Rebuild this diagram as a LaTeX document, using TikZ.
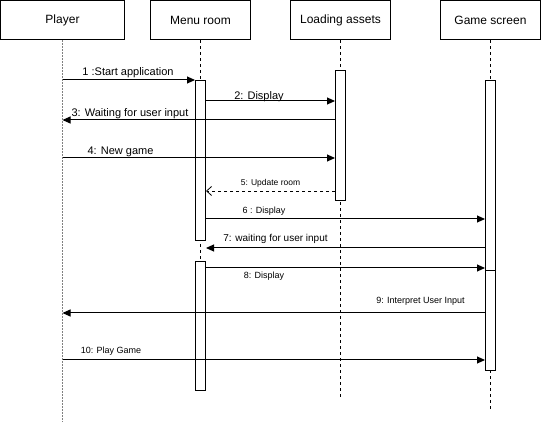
\documentclass[tikz,border=0pt]{standalone}
\usepackage{fontspec}
\setmainfont{Liberation Sans}
\usetikzlibrary{arrows.meta}
\begin{document}
\begin{tikzpicture}[x=1pt,y=-1pt,
 head/.style={draw, line width=1pt, minimum height=39.5pt, inner sep=0pt, font=\fontsize{12}{14}\selectfont},
 act/.style={draw, fill=white, line width=1pt, minimum width=10pt, inner sep=0pt, anchor=north},
 life/.style={line width=0.8pt, dash pattern=on 3pt off 3pt},
 plife/.style={line width=1.5pt, gray, dash pattern=on 2pt off 1pt},
 msg/.style={line width=1pt, -{Triangle[length=8pt,width=7pt]}},
 rmsg/.style={line width=0.8pt, dash pattern=on 3pt off 3pt, -{Straight Barb[length=5pt,width=9pt,line width=0.8pt]}},
 lbl/.style={font=\fontsize{11}{13}\selectfont, inner sep=0pt},
 slbl/.style={font=\fontsize{9}{11}\selectfont, inner sep=0pt}]
\useasboundingbox (0,0) rectangle (542,422);
% headers
\node[head, minimum width=124pt] (player) at (62.5,20.25) {Player};
\node[head, minimum width=100pt] (menu) at (200.5,20.25) {Menu room};
\node[head, minimum width=100pt] (load) at (340.5,20.25) {Loading assets};
\node[head, minimum width=100pt] (game) at (490.5,20.25) {Game screen};
% lifeline ends
\coordinate (pend) at (62.5,422);
\coordinate (mend) at (200.5,390);
\coordinate (lend) at (340.5,397);
\coordinate (gend) at (490.5,410);
\draw[plife] (player.south) -- (pend);
\draw[life] (menu.south) -- (mend);
\draw[life] (load.south) -- (lend);
\draw[life] (game.south) -- (gend);
% activations
\node[act, minimum height=160pt] (ma1) at (200.5,80) {};
\node[act, minimum height=129pt] (ma2) at (200.5,261) {};
\node[act, minimum height=130pt] (la1) at (340.5,70.5) {};
\node[act, minimum height=190pt] (ga1) at (490.5,80) {};
\node[act, minimum height=100pt] (ga2) at (490.5,270) {};
% rows
\coordinate (r1) at (0,80);
\coordinate (r2) at (0,101);
\coordinate (r3) at (0,120);
\coordinate (r4) at (0,158);
\coordinate (r5) at (0,191);
\coordinate (r6) at (0,219);
\coordinate (r7) at (0,248);
\coordinate (r8) at (0,268);
\coordinate (r9) at (0,313);
\coordinate (r10) at (0,360);
% messages
\draw[msg] (player |- r1) -- (ma1.west |- r1);
\draw[msg] (ma1.east |- r2) -- (la1.west |- r2);
\draw[msg] (la1.west |- r3) -- (player |- r3);
\draw[msg] (player |- r4) -- (la1.west |- r4);
\draw[rmsg] (la1.west |- r5) -- (ma1.east |- r5);
\draw[msg] (ma1.east |- r6) -- (ga1.west |- r6);
\draw[msg] (ga1.west |- r7) -- (ma1.east |- r7);
\draw[msg] (ma1.east |- r8) -- (ga1.west |- r8);
\draw[msg] (ga2.west |- r9) -- (player |- r9);
\draw[msg] (player |- r10) -- (ga2.west |- r10);
% labels
\node[lbl] (t1) at (128,72.5) {1 :Start application};
\node[lbl] (t2) at (259,96.5) {2: Display};
\node[lbl] (t3) at (130,113.5) {3: Waiting for user input};
\node[lbl] (t4) at (120.5,151.5) {4: New game};
\node[slbl, font=\fontsize{8.5}{10}\selectfont] (t5) at (270.5,183) {5: Update room};
\node[slbl] (t6) at (264,211) {6 : Display};
\node[lbl, font=\fontsize{10}{12}\selectfont] (t7) at (275.5,238.5) {7: waiting for user input};
\node[slbl] (t8) at (264,276) {8: Display};
\node[slbl] (t9) at (420.5,301) {9: Interpret User Input};
\node[slbl] (t10) at (111,351) {10: Play Game};
\end{tikzpicture}
\end{document}
